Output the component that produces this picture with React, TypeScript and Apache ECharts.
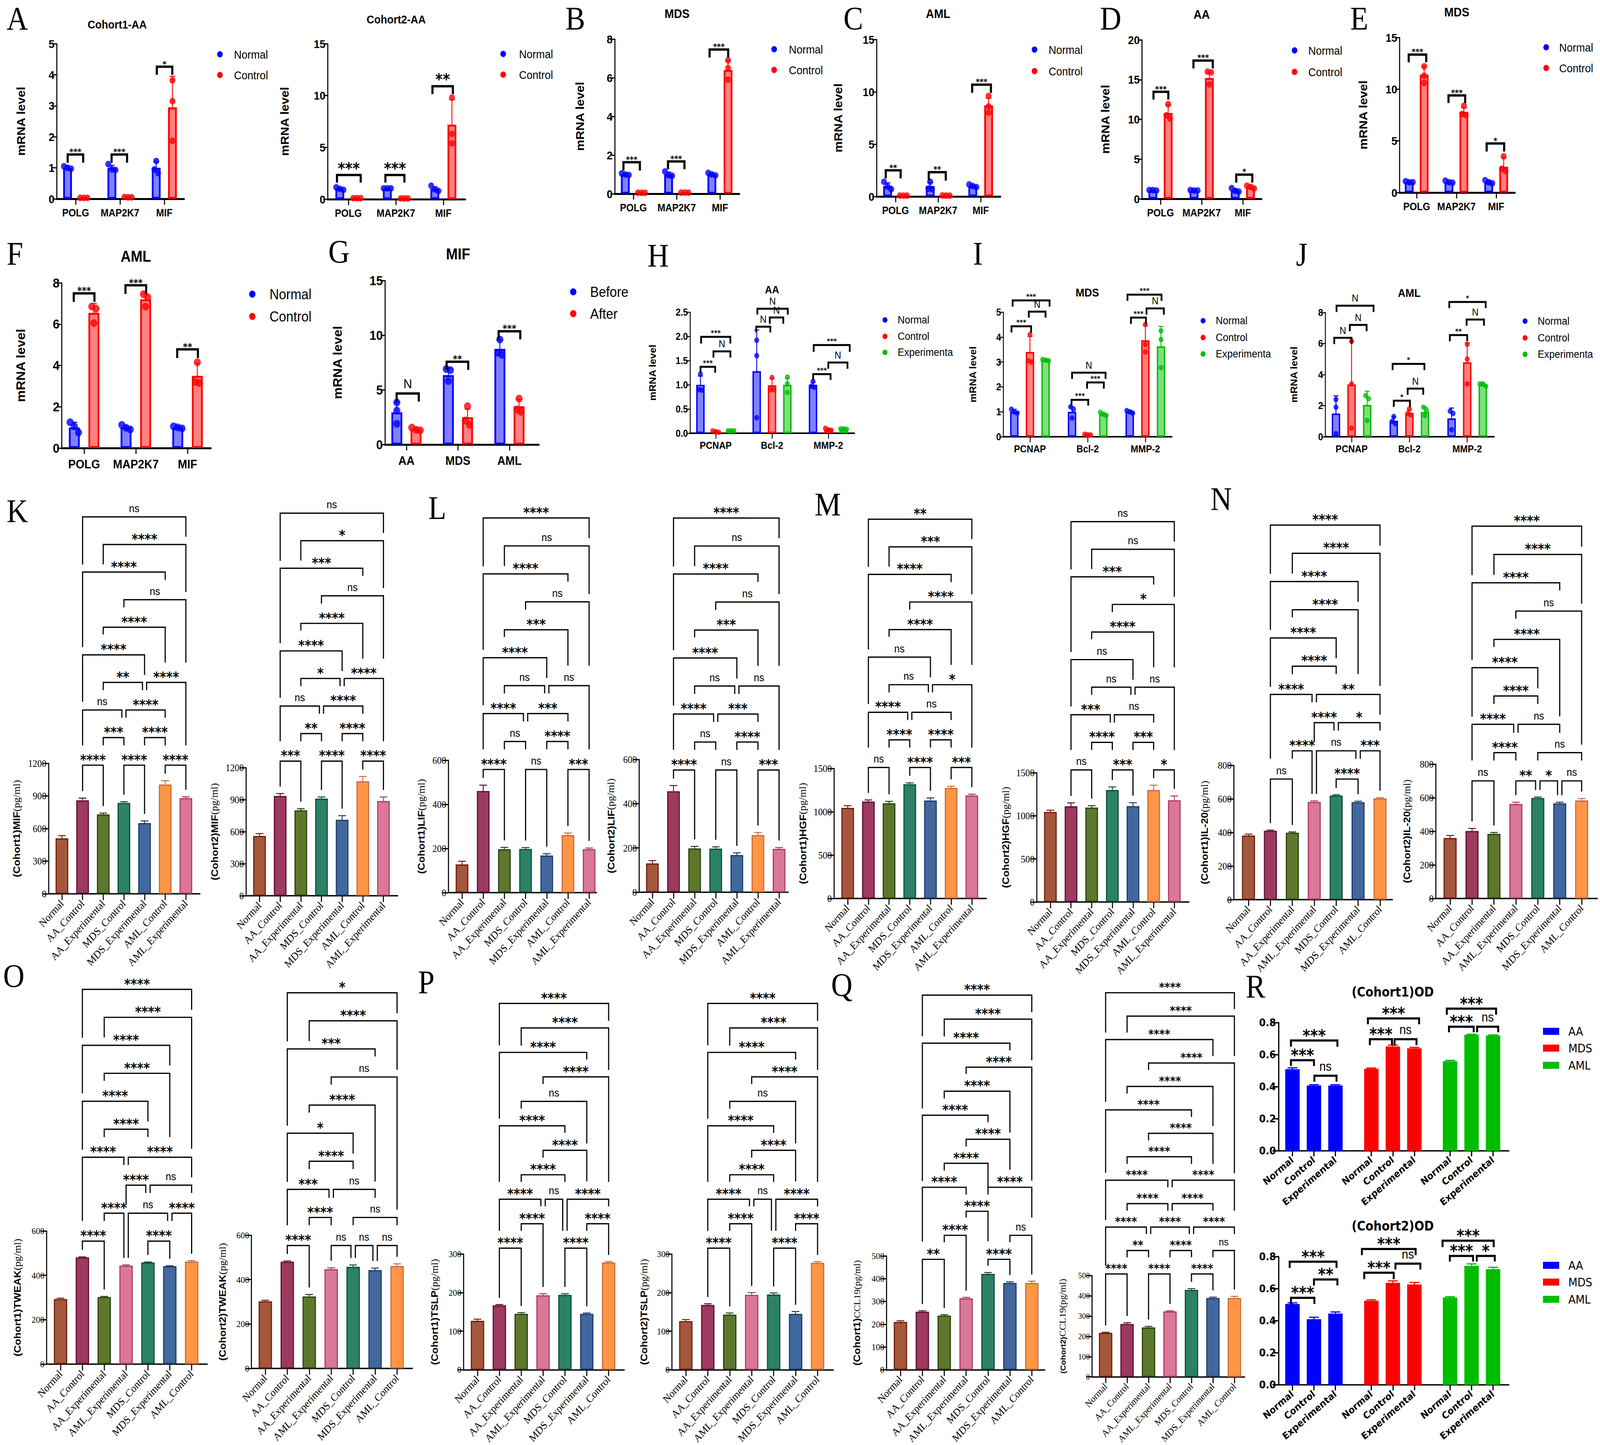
import React, { useEffect, useRef } from 'react';
import * as echarts from 'echarts';

const SANS = '"Liberation Sans", Arial, sans-serif';
const SERIF = '"Liberation Serif", serif';
const DEJAVU = '"DejaVu Sans", sans-serif';

type Tuple = [number, number, number, number, string];
type Pat = [number, number, number, number, number];

// ---- categories
const genes = ['POLG', 'MAP2K7', 'MIF'];
const diseases = ['AA', 'MDS', 'AML'];
const markers = ['PCNAP', 'Bcl-2', 'MMP-2'];
const catsA = ['Normal', 'AA_Control', 'AA_Experimental', 'MDS_Control', 'MDS_Experimental', 'AML_Control', 'AML_Experimental'];
const catsB = ['Normal', 'AA_Control', 'AA_Experimental', 'AML_Experimental', 'MDS_Control', 'MDS_Experimental', 'AML_Control'];
const odCats = ['Normal', 'Control', 'Experimental', 'Normal', 'Control', 'Experimental', 'Normal', 'Control', 'Experimental'];
const odPositions = [0, 1, 2, 3.67, 4.67, 5.67, 7.33, 8.33, 9.33];

// ---- qPCR panels: bars / errors per group, three dots per bar
const a1Bars = [[1, 1, 1], [0.03, 0.05, 2.95]];
const a1Errs = [[0.05, 0.08, 0.2], [0.01, 0.01, 1]];
const a1Dots = [[[1.05, 1, 0.97], [1.12, 0.95, 0.93], [1.22, 0.95, 0.83]], [[0.03, 0.03, 0.03], [0.05, 0.06, 0.05], [3.82, 3.15, 1.87]]];
const a1Brackets: Tuple[] = [[-0.18, 0.17, 1.43, 1.165, '***'], [0.81, 1.16, 1.43, 1.165, '***'], [1.83, 2.18, 4.26, 4, '*']];

const a2Bars = [[1, 1.02, 1], [0.1, 0.08, 7.2]];
const a2Errs = [[0.1, 0.05, 0.2], [0.02, 0.02, 2.4]];
const a2Dots = [[[1.15, 1, 0.9], [1.05, 1.05, 1.05], [1.3, 0.95, 0.8]], [[0.1, 0.1, 0.1], [0.08, 0.08, 0.08], [9.8, 6.3, 5.4]]];
const a2Brackets: Tuple[] = [[-0.24, 0.26, 2.34, 1.6, '***'], [0.78, 1.18, 2.34, 1.6, '***'], [1.77, 2.2, 10.9, 10.15, '**']];

const bBars = [[1, 1, 1], [0.05, 0.05, 6.4]];
const bErrs = [[0.05, 0.12, 0.06], [0.01, 0.01, 0.5]];
const bDots = [[[1.05, 1, 0.97], [1.15, 0.95, 0.93], [1.08, 1, 0.95]], [[0.05, 0.05, 0.05], [0.06, 0.06, 0.06], [6.9, 6.5, 5.9]]];
const bBrackets: Tuple[] = [[-0.23, 0.15, 1.63, 1.2, '***'], [0.8, 1.18, 1.67, 1.27, '***'], [1.76, 2.19, 7.46, 7.04, '***']];

const cBars = [[1, 1, 1], [0.08, 0.08, 8.7]];
const cErrs = [[0.3, 0.35, 0.1], [0.02, 0.02, 0.7]];
const cDots = [[[1.4, 0.95, 0.7], [1.4, 0.75, 0.7], [1.15, 1, 0.9]], [[0.08, 0.08, 0.08], [0.08, 0.1, 0.08], [9.6, 8.6, 8]]];
const cBrackets: Tuple[] = [[-0.23, 0.12, 2.5, 1.73, '**'], [0.78, 1.18, 2.32, 1.52, '**'], [1.8, 2.24, 10.68, 9.9, '***']];

const dBars = [[1.05, 1.05, 1.05], [10.8, 15.2, 1.45]];
const dErrs = [[0.1, 0.1, 0.2], [1, 0.7, 0.2]];
const dDots = [[[1.1, 1.1, 1.05], [1.1, 1.05, 1.05], [1.35, 1, 0.9]], [[11.9, 10.5, 10.1], [16, 15.9, 14.4], [1.65, 1.5, 1.3]]];
const dBrackets: Tuple[] = [[-0.17, 0.19, 13.46, 12.5, '***'], [0.8, 1.27, 17.4, 16.4, '***'], [1.84, 2.23, 3.05, 2.04, '*']];

const eBars = [[1, 1, 1], [11.4, 7.8, 2.5]];
const eErrs = [[0.1, 0.1, 0.15], [0.8, 0.4, 0.9]];
const eDots = [[[1.1, 1, 1], [1.15, 1, 0.95], [1.2, 1, 0.9]], [[12.2, 11.3, 10.6], [8.4, 7.6, 7.5], [3.5, 2.3, 2.1]]];
const eBrackets: Tuple[] = [[-0.2, 0.24, 13.35, 12.6, '***'], [0.8, 1.22, 9.4, 8.66, '***'], [1.76, 2.2, 4.75, 3.97, '*']];

const fBars = [[1, 1, 1], [6.55, 7.2, 3.5]];
const fErrs = [[0.25, 0.08, 0.06], [0.45, 0.25, 0.6]];
const fDots = [[[1.25, 1.05, 0.75], [1.12, 0.98, 0.9], [1.05, 1, 0.95]], [[6.85, 6.75, 6.05], [7.45, 7.3, 6.85], [4.15, 3.2, 3.15]]];
const fBrackets: Tuple[] = [[-0.2, 0.2, 7.49, 7.08, '***'], [0.8, 1.2, 7.88, 7.46, '***'], [1.8, 2.2, 4.78, 4.36, '**']];

const gBars = [[2.95, 6.35, 8.75], [1.4, 2.5, 3.5]];
const gErrs = [[0.9, 0.6, 0.8], [0.15, 0.75, 0.65]];
const gDots = [[[3.85, 3.1, 1.9], [6.9, 6.8, 5.8], [9.6, 8.4, 8.2]], [[1.55, 1.35, 1.3], [3.5, 2.2, 1.8], [4.2, 3.2, 3]]];
const gBrackets: Tuple[] = [[-0.19, 0.24, 4.67, 3.93, 'N'], [0.78, 1.2, 7.57, 6.83, '**'], [1.79, 2.21, 10.36, 9.62, '***']];

const hBars = [[1, 1.28, 1], [0.03, 0.99, 0.07], [0.05, 1, 0.08]];
const hErrs = [[0.18, 0.85, 0.05], [0.02, 0.14, 0.02], [0.01, 0.13, 0.02]];
const hDots = [
  [[1.22, 0.9, 0.89], [1.92, 1.6, 0.32], [1.07, 0.97, 0.95]],
  [[0.05, 0.03, 0.02], [1.15, 0.9, 0.9], [0.1, 0.07, 0.06]],
  [[0.05, 0.05, 0.05], [1.16, 1.02, 0.84], [0.09, 0.09, 0.08]],
];
const hBrackets: Tuple[] = [
  [-0.27, -0.01, 1.37, 1.25, '***'], [-0.04, 0.26, 1.69, 1.56, 'N'], [-0.26, 0.26, 1.99, 1.85, '***'],
  [0.72, 0.97, 2.2, 2.08, 'N'], [0.96, 1.2, 2.39, 2.26, 'N'], [0.74, 1.28, 2.57, 2.45, 'N'],
  [1.73, 2.04, 1.22, 1.1, '***'], [2, 2.34, 1.46, 1.33, 'N'], [1.74, 2.38, 1.82, 1.68, '***'],
];

const iBars = [[1, 1, 1], [3.4, 0.08, 3.87], [3.07, 0.9, 3.63]];
const iErrs = [[0.1, 0.2, 0.05], [0.62, 0.03, 0.6], [0.05, 0.06, 0.8]];
const iDots = [
  [[1.1, 1, 0.95], [1.2, 1.1, 0.75], [1.05, 1, 0.95]],
  [[4.1, 3.05, 3], [0.1, 0.08, 0.07], [4.5, 3.7, 3.4]],
  [[3.1, 3.07, 3.05], [0.98, 0.9, 0.85], [4.25, 3.9, 2.77]],
];
const iBrackets: Tuple[] = [
  [-0.32, 0.02, 4.43, 4.18, '***'], [-0.02, 0.27, 5.02, 4.78, 'N'], [-0.3, 0.34, 5.47, 5.22, '***'],
  [0.72, 1.01, 1.48, 1.25, '***'], [0.99, 1.28, 2.18, 1.93, '***'], [0.73, 1.31, 2.57, 2.32, 'N'],
  [1.75, 2.01, 4.78, 4.53, '***'], [2.02, 2.32, 5.15, 4.9, 'N'], [1.69, 2.28, 5.7, 5.45, '***'],
];

const jBars = [[1.5, 1.03, 1.18], [3.37, 1.52, 4.8], [2.05, 1.6, 3.35]];
const jErrs = [[1.13, 0.25, 0.67], [2.75, 0.2, 1.25], [0.88, 0.3, 0.1]];
const jDots = [
  [[2.4, 1.9, 0.2], [1.3, 1, 0.85], [1.65, 1.5, 0.45]],
  [[6.15, 3.4, 0.55], [1.8, 1.5, 1.4], [5.95, 5, 3.4]],
  [[2.65, 2.45, 1.05], [1.9, 1.7, 1.35], [3.4, 3.4, 3.25]],
];
const jBrackets: Tuple[] = [
  [-0.3, 0, 6.37, 5.97, 'N'], [-0.03, 0.26, 7.2, 6.8, 'N'], [-0.26, 0.38, 8.44, 8.03, 'N'],
  [0.73, 1.01, 2.32, 1.92, '*'], [0.97, 1.24, 3.1, 2.7, 'N'], [0.71, 1.26, 4.69, 4.29, '*'],
  [1.7, 2, 6.55, 6.15, '**'], [1.99, 2.29, 7.55, 7.15, 'N'], [1.69, 2.32, 8.68, 8.28, '*'],
];

// ---- ELISA panels
const k1Values = [510, 860, 730, 835, 650, 1005, 880];
const k1Errs = [25, 20, 12, 12, 20, 35, 12];
const k2Values = [560, 935, 800, 910, 712, 1072, 887];
const k2Errs = [22, 22, 15, 15, 38, 45, 38];
const l1Values = [128, 460, 197, 198, 168, 260, 197];
const l1Errs = [14, 27, 8, 6, 8, 10, 5];
const l2Values = [130, 456, 198, 197, 168, 258, 196];
const l2Errs = [13, 26, 9, 8, 10, 12, 6];
const m1Values = [1045, 1118, 1098, 1318, 1130, 1275, 1188];
const m1Errs = [25, 18, 22, 15, 30, 18, 15];
const m2Values = [1045, 1110, 1095, 1300, 1112, 1300, 1180];
const m2Errs = [20, 40, 22, 35, 40, 55, 50];
const n1Values = [382, 410, 398, 582, 620, 580, 603];
const n1Errs = [8, 4, 5, 6, 4, 6, 4];
const n2Values = [360, 402, 385, 563, 598, 566, 584];
const n2Errs = [15, 15, 8, 10, 6, 7, 11];
const o1Values = [293, 481, 302, 444, 458, 441, 462];
const o1Errs = [4, 2, 3, 3, 2, 2, 4];
const o2Values = [302, 481, 324, 447, 458, 443, 461];
const o2Errs = [5, 3, 9, 6, 8, 9, 10];
const p1Values = [127, 167, 145, 193, 194, 145, 278];
const p1Errs = [4, 2, 3, 4, 3, 2, 2];
const p2Values = [126, 168, 143, 194, 195, 145, 277];
const p2Errs = [4, 3, 4, 6, 4, 6, 3];
const q1Values = [210, 255, 238, 314, 421, 381, 381];
const q1Errs = [5, 4, 4, 4, 6, 5, 8];
const q2Values = [217, 261, 244, 323, 429, 389, 389];
const q2Errs = [3, 6, 5, 3, 6, 4, 8];

const k1Sig = '**** **** **** *** **** ns **** ** **** **** **** ns **** **** ns';
const k2Sig = '*** **** **** ** **** ns **** * **** **** **** ns *** * ns';
const l1Sig = '**** ns *** ns **** **** *** ns ns **** *** ns **** ns ****';
const m1Sig = 'ns **** *** **** **** **** ns ns * ns **** **** **** *** **';
const m2Sig = 'ns *** * **** *** *** ns ns ns ns **** * *** ns ns';
const n1Sig = 'ns **** **** ns *** **** * **** ** **** **** **** **** **** ****';
const n2Sig = 'ns ** * ns **** ns **** ns **** **** **** ns **** **** ****';
const o1Sig = '**** **** **** ns **** **** ns **** **** **** **** **** **** **** ****';
const o2Sig = '**** ns ns ns **** ns *** ns **** * **** ns *** **** *';
const pSig = '**** **** **** **** **** ns **** **** **** **** ns **** **** **** ****';
const q1Sig = '** **** **** ns **** **** **** **** **** **** **** **** **** **** ****';
const q2Sig = '**** **** **** ** **** ns **** **** **** **** **** **** **** **** **** **** **** **** **** **** ****';

// bracket layouts: from, to, ladder level, left drop, right drop (in ladder steps, -1 = down to the bar)
const patK: Pat[] = [
  [1, 2, 0, -1, -1], [3, 4, 0, -1, -1], [5, 6, 0, -1, -1], [2, 3, 1, 0.28, 0.28], [4, 5, 1, 0.28, 0.28],
  [1, 2.9, 2, 1.28, 0.28], [3.1, 5, 2, 0.28, 0.28], [2, 3.9, 3, 0.28, 0.28], [4.1, 6, 3, 0.28, 2.28],
  [1, 4, 4, 1.7, 0.73], [2, 5, 5, 0.26, 1.28], [3, 6, 6, 0.28, 2.28], [1, 5, 7, 2.72, 0.28], [2, 6, 8, 0.72, 1.72], [1, 6, 9, 1.73, 0.72],
];
const patN1: Pat[] = [
  [1, 2, 0, -1, -1], [4, 5, 0, -1, -1], [2, 2.9, 1, 0.28, -1], [3.1, 4.9, 1, -1, 0.28], [5.1, 6, 1, 0.28, -1],
  [3, 3.9, 2, 0.7, 0.28], [4.1, 6, 2, 0.28, 0.28], [1, 2.9, 3, 2.28, 0.28], [3.1, 6, 3, 0.28, 0.72],
  [2, 4, 4, 0.28, 0.28], [1, 4, 5, 1.73, 0.72], [2, 5, 6, 0.27, 2.28], [1, 5, 7, 1.72, 0.72], [2, 6, 8, 0.72, 4.7], [1, 6, 9, 1.73, 0.73],
];
const patN2: Pat[] = [
  [1, 2, 0, -1, -1], [3, 3.9, 0, -1, -1], [4.1, 4.9, 0, -1, -1], [5.1, 6, 0, -1, -1], [2, 3, 1, 0.28, 0.28], [4, 6, 1, 0.28, 0.28],
  [1, 2.9, 2, 1.28, 0.3], [3.1, 5, 2, 0.3, 0.3], [2, 4, 3, 0.28, 0.28], [1, 4, 4, 1.73, 0.73],
  [2, 5, 5, 0.27, 2.72], [3, 6, 6, 0.27, 4.72], [1, 5, 7, 2.73, 0.27], [2, 6, 8, 0.72, 1.74], [1, 6, 9, 1.73, 0.73],
];
const patP: Pat[] = [
  [1, 2, 0, -1, -1], [4, 5, 0, -1, -1], [2, 3, 1, 0.29, -1], [5, 6, 1, 0.29, -1],
  [1, 2.9, 2, 1.29, 0.29], [3.1, 3.9, 2, 0.29, 1.29], [4.1, 6, 2, 1.29, 0.29], [2, 4, 3, 0.29, 0.29], [3, 5, 4, 0.3, 1.27],
  [1, 4, 5, 2.29, 0.29], [2, 5, 6, 0.3, 1.72], [3, 6, 7, 0.29, 4.29], [1, 5, 8, 2.71, 0.29], [2, 6, 9, 0.72, 1.72], [1, 6, 10, 1.71, 0.71],
];
const patQ1: Pat[] = [
  [1, 2, 0, -1, -1], [4, 5, 0, -1, -1], [2, 3, 1, 0.29, -1], [5, 6, 1, 0.29, -1], [3, 4, 2, 0.26, 1.25],
  [1, 3, 3, 2.26, 0.3], [4, 6, 3, 0.3, 1.26], [2, 4, 4, 0.3, 0.99], [3, 5, 5, 0.3, 1.27], [1, 4, 6, 2.74, 0.29],
  [2, 5, 7, 0.3, 1.72], [3, 6, 8, 0.28, 4.72], [1, 5, 9, 2.72, 0.3], [2, 6, 10, 0.72, 1.71], [1, 6, 11, 1.71, 0.71],
];
const patQ2: Pat[] = [
  [0, 1, 0, -1, -1], [2, 3, 0, -1, -1], [4, 5, 0, -1, -1], [1, 2, 1, 0.29, 0.29], [3, 4, 1, 0.29, 0.29], [5, 6, 1, 0.29, -1],
  [0, 1.9, 2, 1.64, 0.3], [2.1, 3.9, 2, 0.3, 0.3], [4.1, 6, 2, 0.3, 0.3], [1, 2.9, 3, 0.3, 0.3], [3.1, 5, 3, 0.3, 0.3],
  [0, 2.9, 4, 1.7, 0.3], [3.1, 6, 4, 0.3, 1.3], [1, 4, 5, 0.3, 0.3], [2, 5, 6, 0.3, 1.3], [0, 4, 7, 2.68, 0.3],
  [1, 5, 8, 0.3, 1.69], [2, 6, 9, 0.3, 4.7], [0, 5, 10, 2.66, 0.7], [1, 6, 11, 0.7, 1.7], [0, 6, 12, 1.7, 0.7],
];

// ---- OD panels
const r1Values = [0.51, 0.408, 0.408, 0.513, 0.652, 0.64, 0.56, 0.725, 0.72];
const r1Errs = [0.008, 0.005, 0.005, 0.004, 0.008, 0.006, 0.005, 0.003, 0.004];
const r1Brackets: Tuple[] = [
  [-0.07, 2.09, 0.689, 0.65, '***'], [-0.07, 1, 0.566, 0.53, '***'], [1.02, 2.05, 0.469, 0.432, 'ns'],
  [3.51, 5.89, 0.827, 0.79, '***'], [3.6, 4.63, 0.697, 0.66, '***'], [4.75, 5.77, 0.697, 0.66, 'ns'],
  [7.18, 9.47, 0.888, 0.85, '***'], [7.28, 8.43, 0.775, 0.74, '***'], [8.59, 9.57, 0.775, 0.74, 'ns'],
];
const r2Values = [0.505, 0.41, 0.445, 0.525, 0.637, 0.627, 0.545, 0.743, 0.722];
const r2Errs = [0.007, 0.012, 0.01, 0.006, 0.012, 0.012, 0.005, 0.012, 0.012];
const r2Brackets: Tuple[] = [
  [-0.13, 2.05, 0.769, 0.73, '***'], [1, 2.09, 0.658, 0.62, '**'], [-0.07, 1.02, 0.543, 0.505, '***'],
  [3.23, 5.73, 0.848, 0.81, '***'], [3.34, 4.71, 0.7, 0.66, '***'], [4.79, 5.95, 0.757, 0.72, 'ns'],
  [6.98, 9.36, 0.9, 0.86, '***'], [7.32, 8.4, 0.805, 0.77, '***'], [8.57, 9.41, 0.805, 0.77, '*'],
];

// ---- colours
const qFill = ['#8080ff', '#ff8080', '#80dd80'];
const qLine = ['#0000ff', '#ff0000', '#00bd00'];
const elisa: Record<string, [string, string]> = {
  brown: ['#a5573b', '#6b1b0e'], wine: ['#9c3a60', '#5c0a30'], olive: ['#5d782c', '#24400c'], teal: ['#2c8267', '#0b4a3a'],
  blue: ['#41689f', '#1c3a66'], orange: ['#ff9545', '#c7683a'], pink: ['#da7896', '#a8386a'],
};
const orderA = ['brown', 'wine', 'olive', 'teal', 'blue', 'orange', 'pink'];
const orderB = ['brown', 'wine', 'olive', 'pink', 'teal', 'blue', 'orange'];
const odColors = ['#0000ff', '#ff0000', '#00bd00'];

function buildOption() {
  const grid: any[] = [];
  const xAxis: any[] = [];
  const yAxis: any[] = [];
  const series: any[] = [];
  const graphic: any[] = [];

  const text = (x: number, y: number, t: string, font: any) =>
    graphic.push({ type: 'text', x, y, silent: true, style: { text: t, fill: '#000', verticalAlign: 'middle', align: 'left', ...font } });
  const letter = (t: string, x: number, y: number) => text(x, y, t, { fontFamily: SERIF, fontSize: 84 });
  const title = (t: string, x: number, y: number, size: number, family = SANS) =>
    text(x, y, t, { fontFamily: family, fontSize: size, fontWeight: 'bold', align: 'center' });
  const dotLegend = (x: number, tx: number, ys: number[], names: string[], size: number, r: number) =>
    names.forEach((n, i) => {
      graphic.push({ type: 'circle', silent: true, shape: { cx: x, cy: ys[i], r }, style: { fill: qLine[i] } });
      text(tx, ys[i], n, { fontFamily: SANS, fontSize: size });
    });

  // axes shared by every panel, returns the axis index
  const addAxes = (p: any) => {
    const [ax, top, x1, bot] = p.box;
    const i = grid.length;
    grid.push({ left: ax, top, width: x1 - ax, height: bot - top, containLabel: false });
    xAxis.push({
      gridIndex: i,
      type: 'value',
      min: (ax - p.x0) / p.dx,
      max: (x1 - p.x0) / p.dx,
      splitLine: { show: false },
      axisLine: { onZero: false, lineStyle: { color: '#000', width: p.xLw } },
      axisTick: { customValues: p.positions, length: p.tick, lineStyle: { color: '#000', width: p.yLw } },
      axisLabel: {
        customValues: p.positions,
        color: '#000',
        margin: p.xMargin,
        rotate: p.xRotate || 0,
        fontFamily: p.xFamily,
        fontSize: p.xSize,
        fontWeight: p.xWeight || 'normal',
        formatter: (v: number) => p.labels[p.positions.findIndex((q: number) => Math.abs(q - v) < 1e-6)] ?? '',
      },
    });
    yAxis.push({
      gridIndex: i,
      type: 'value',
      min: 0,
      max: p.ymax,
      interval: p.step,
      splitLine: { show: false },
      axisLine: { onZero: false, lineStyle: { color: '#000', width: p.yLw } },
      axisTick: { length: p.yTick, lineStyle: { color: '#000', width: p.yLw } },
      axisLabel: {
        color: '#000',
        margin: p.yMargin,
        fontFamily: p.yFamily,
        fontSize: p.ySize,
        fontWeight: p.yWeight || 'normal',
        formatter: (v: number) => (p.yDigits ? v.toFixed(p.yDigits) : String(v)),
      },
      name: p.yName,
      nameLocation: 'middle',
      nameRotate: 90,
      nameGap: p.yNameGap,
      nameMoveOverlap: false,
      nameTextStyle: p.yNameStyle,
    });
    return i;
  };

  const barSeries = (i: number, bars: any[], width: number, borderWidth: number) =>
    series.push({
      type: 'bar',
      xAxisIndex: i,
      yAxisIndex: i,
      barWidth: width,
      silent: true,
      data: bars.map((b) => ({ value: [b.x, b.v], itemStyle: { color: b.fill, borderColor: b.line, borderWidth } })),
    });

  const errSeries = (i: number, bars: any[], both: boolean, cap: number, lw: number) =>
    series.push({
      type: 'custom',
      xAxisIndex: i,
      yAxisIndex: i,
      silent: true,
      encode: { x: 0, y: [1, 2] },
      data: bars.map((b) => [b.x, both ? b.v - b.e : b.v, b.v + b.e]),
      renderItem: (params: any, api: any) => {
        const lo = api.coord([api.value(0), api.value(1)]);
        const hi = api.coord([api.value(0), api.value(2)]);
        const style = { stroke: bars[params.dataIndex].line, lineWidth: lw };
        const ln = (x1: number, y1: number, x2: number, y2: number) => ({ type: 'line', shape: { x1, y1, x2, y2 }, style });
        const kids = [ln(lo[0], lo[1], hi[0], hi[1]), ln(hi[0] - cap, hi[1], hi[0] + cap, hi[1])];
        if (both) kids.push(ln(lo[0] - cap, lo[1], lo[0] + cap, lo[1]));
        return { type: 'group', children: kids };
      },
    });

  // rows are from, to, top, left end, right end; sigs are the texts over them
  const bracketSeries = (i: number, rows: number[][], sigs: string[], f: any) =>
    series.push({
      type: 'custom',
      xAxisIndex: i,
      yAxisIndex: i,
      silent: true,
      encode: { x: [0, 1], y: [2, 3, 4] },
      data: rows,
      z: 3,
      renderItem: (params: any, api: any) => {
        const a = api.coord([api.value(0), api.value(2)]);
        const b = api.coord([api.value(1), api.value(2)]);
        const la = api.coord([api.value(0), api.value(3)]);
        const lb = api.coord([api.value(1), api.value(4)]);
        const t = sigs[params.dataIndex];
        const star = t[0] === '*';
        const size = star ? f.star : f.plain;
        const gap = star ? f.starGap - 0.2 * size : f.plainGap;
        return {
          type: 'group',
          children: [
            { type: 'polyline', shape: { points: [[la[0], la[1]], [a[0], a[1]], [b[0], b[1]], [lb[0], lb[1]]] }, style: { stroke: '#000', lineWidth: f.lw, fill: 'none' } },
            {
              type: 'text',
              style: {
                x: (a[0] + b[0]) / 2,
                y: a[1] - gap,
                text: t,
                fill: '#000',
                align: 'center',
                verticalAlign: 'middle',
                fontSize: size,
                fontWeight: star ? 'bold' : 'normal',
                fontFamily: star ? DEJAVU : SANS,
              },
            },
          ],
        };
      },
    });

  // dots close in height sit side by side
  const swarm = (ys: number[], pxPerValue: number, d: number, unit: number) => {
    const sorted = [...ys].sort((a, b) => b - a);
    const out: number[][] = [];
    let k = 0;
    while (k < sorted.length) {
      let e = k;
      while (e + 1 < sorted.length && (sorted[e] - sorted[e + 1]) * pxPerValue < d * 0.8) e++;
      const n = e - k + 1;
      for (let j = k; j <= e; j++) out.push([(j - k - (n - 1) / 2) * d * 0.6 * unit, sorted[j]]);
      k = e + 1;
    }
    return out;
  };

  const qpcr = (p: any) => {
    const [, top, , bot] = p.box;
    const n = p.bars.length;
    const offs = n === 2 ? [-p.off, p.off] : [-p.off, 0, p.off];
    const i = addAxes({
      ...p,
      positions: p.cats.map((_: string, c: number) => c),
      labels: p.cats,
      xLw: p.xLw || 5,
      yLw: p.yLw || 3,
      tick: p.tick || 15,
      yTick: p.yTick || 12,
      xMargin: p.xMargin || 22,
      yMargin: p.yMargin || 6,
      xFamily: SANS,
      xWeight: 'bold',
      yFamily: SANS,
      yWeight: 'bold',
      yName: 'mRNA level',
      yNameGap: p.box[0] - p.nameX - p.nameSize / 2,
      yNameStyle: { color: '#000', fontFamily: SANS, fontWeight: 'bold', fontSize: p.nameSize },
    });
    const bars: any[] = [];
    const dots: any[] = [];
    p.bars.forEach((row: number[], s: number) =>
      row.forEach((v, c) => {
        const x = c + offs[s];
        bars.push({ x, v, e: p.errs[s][c], fill: qFill[s], line: qLine[s] });
        swarm(p.dots[s][c], (bot - top) / p.ymax, p.dot, 1 / p.dx).forEach(([dx, y]) =>
          dots.push({ value: [x + dx, y], itemStyle: { color: qLine[s] } }),
        );
      }),
    );
    barSeries(i, bars, p.barW, p.border || 5);
    errSeries(i, bars, true, p.cap || 8, 2.5);
    series.push({ type: 'scatter', xAxisIndex: i, yAxisIndex: i, silent: true, symbolSize: p.dot, data: dots, z: 2 });
    bracketSeries(
      i,
      p.brackets.map((b: Tuple) => [b[0], b[1], b[2], b[3], b[3]]),
      p.brackets.map((b: Tuple) => b[4]),
      { lw: p.lw || 6, star: p.star, starGap: p.starGap, plain: p.plain || 30, plainGap: p.plainGap || 22 },
    );
  };

  const elisaPanel = (p: any) => {
    const [, top, , bot] = p.box;
    const valuePerPx = p.ymax / (bot - top);
    const i = addAxes({
      ...p,
      positions: p.cats.map((_: string, c: number) => c),
      labels: p.cats,
      xLw: 3.5,
      yLw: 3,
      tick: 16,
      yTick: 16,
      xMargin: 20,
      yMargin: 6,
      xRotate: 45,
      xFamily: SERIF,
      xSize: p.xSize || 28,
      yFamily: SERIF,
      ySize: p.ySize || 26,
      yName: `{a|${p.nameA}}{b|${p.nameB}}`,
      yNameGap: p.box[0] - p.nameX - 15,
      yNameStyle: {
        rich: {
          a: { fontFamily: SANS, fontWeight: 'bold', fontSize: p.nameSize || 27, color: '#000' },
          b: { fontFamily: SERIF, fontSize: p.nameSerif ? 25 : 27, color: '#000' },
        },
      },
    });
    const tones = p.order.map((k: string) => elisa[k]);
    const bars = p.values.map((v: number, c: number) => ({ x: c, v, e: p.errs[c], fill: tones[c][0], line: tones[c][1] }));
    barSeries(i, bars, p.barW || 36, 3);
    errSeries(i, bars, false, 11, 2.5);
    const barTop = (x: number) => {
      const c = Math.round(x);
      return p.values[c] + p.errs[c] + 18 * valuePerPx;
    };
    const rows = p.pattern.map(([a, b, lv, dl, dr]: Pat) => {
      const t = p.base + lv * p.pitch;
      return [a, b, t, dl < 0 ? barTop(a) : t - dl * p.pitch, dr < 0 ? barTop(b) : t - dr * p.pitch];
    });
    bracketSeries(i, rows, p.sig.split(' '), {
      lw: p.lw || 3.2,
      star: p.star || 35,
      starGap: p.starGap || 21,
      plain: p.plain || 28,
      plainGap: p.plainGap || 22,
    });
  };

  const odPanel = (p: any) => {
    const i = addAxes({
      ...p,
      positions: odPositions,
      labels: odCats,
      xLw: 3.5,
      yLw: 3.5,
      tick: 14,
      yTick: 18,
      xMargin: 20,
      yMargin: 8,
      xRotate: 38,
      xFamily: DEJAVU,
      xSize: 25,
      xWeight: 'bold',
      yFamily: DEJAVU,
      ySize: 27,
      yWeight: 'bold',
      ymax: 0.8,
      step: 0.2,
      yDigits: 1,
    });
    const bars = p.values.map((v: number, c: number) => {
      const col = odColors[Math.floor(c / 3)];
      return { x: odPositions[c], v, e: p.errs[c], fill: col, line: col };
    });
    barSeries(i, bars, 41, 0);
    errSeries(i, bars, false, 14, 3);
    bracketSeries(
      i,
      p.brackets.map((b: Tuple) => [b[0], b[1], b[2], b[3], b[3]]),
      p.brackets.map((b: Tuple) => b[4]),
      { lw: 5.5, star: 42, starGap: 21, plain: 33, plainGap: 24 },
    );
    title(p.title, 3958, p.titleY, 33, DEJAVU);
    ['AA', 'MDS', 'AML'].forEach((n, c) => {
      const y = p.legendY[c];
      graphic.push({ type: 'rect', silent: true, shape: { x: 4385, y: y - 9, width: 46, height: 18 }, style: { fill: odColors[c] } });
      text(4457, y, n, { fontFamily: DEJAVU, fontSize: 30 });
    });
  };

  // ---- top rows
  const twoNames = ['Normal', 'Control'];
  const threeNames = ['Normal', 'Control', 'Experimenta'];
  const small = { ySize: 30, xSize: 27, barW: 25, dot: 17, nameSize: 32 };

  qpcr({ ...small, box: [161, 112, 523, 509], x0: 215, dx: 126, off: 0.183, ymax: 5, step: 1, cats: genes, bars: a1Bars, errs: a1Errs, dots: a1Dots, brackets: a1Brackets, star: 22, starGap: 11, nameX: 59 });
  title('Cohort1-AA', 333, 62, 30);
  dotLegend(625, 665, [139, 192], twoNames, 30, 8);
  qpcr({ ...small, box: [931, 112, 1322, 510], x0: 990, dx: 135, off: 0.18, ymax: 15, step: 5, cats: genes, bars: a2Bars, errs: a2Errs, dots: a2Dots, brackets: a2Brackets, star: 40, starGap: 25, nameX: 809 });
  title('Cohort2-AA', 1126, 49, 30);
  dotLegend(1430, 1475, [138, 191], twoNames, 30, 8);
  qpcr({ ...small, box: [1747, 100, 2101, 496], x0: 1800, dx: 123, off: 0.187, ymax: 8, step: 2, cats: genes, bars: bBars, errs: bErrs, dots: bDots, brackets: bBrackets, star: 21, starGap: 11, nameX: 1648 });
  title('MDS', 1924, 34, 32);
  dotLegend(2200, 2242, [126, 179], twoNames, 30, 8);
  qpcr({ ...small, box: [2491, 101, 2843, 503], x0: 2545, dx: 121, off: 0.186, ymax: 15, step: 5, cats: genes, bars: cBars, errs: cErrs, dots: cDots, brackets: cBrackets, star: 21, starGap: 11, nameX: 2382 });
  title('AML', 2666, 34, 32);
  dotLegend(2940, 2980, [127, 182], twoNames, 30, 8);
  qpcr({ ...small, box: [3245, 102, 3585, 509], x0: 3298, dx: 117, off: 0.186, ymax: 20, step: 5, cats: genes, bars: dBars, errs: dErrs, dots: dDots, brackets: dBrackets, star: 21, starGap: 11, nameX: 3141 });
  title('AA', 3415, 36, 32);
  dotLegend(3679, 3718, [129, 184], twoNames, 30, 8);
  qpcr({ ...small, box: [3977, 96, 4305, 493], x0: 4026, dx: 113, off: 0.188, ymax: 15, step: 5, cats: genes, bars: eBars, errs: eErrs, dots: eDots, brackets: eBrackets, star: 21, starGap: 11, nameX: 3874 });
  title('MDS', 4140, 30, 32);
  dotLegend(4394, 4431, [121, 174], twoNames, 30, 8);

  const large = { ySize: 34, xSize: 32, barW: 31, dot: 20, nameSize: 34, star: 25, starGap: 12, xMargin: 24, plain: 34, plainGap: 25 };
  qpcr({ ...large, box: [175, 724, 599, 1147], x0: 239, dx: 147, off: 0.189, ymax: 8, step: 2, cats: genes, bars: fBars, errs: fErrs, dots: fDots, brackets: fBrackets, nameX: 59 });
  title('AML', 386, 656, 40);
  dotLegend(717, 766, [753, 810], twoNames, 37, 9);
  qpcr({ ...large, box: [1094, 718, 1531, 1138], x0: 1155, dx: 146.4, off: 0.186, ymax: 15, step: 5, cats: diseases, bars: gBars, errs: gErrs, dots: gDots, brackets: gBrackets, nameX: 960 });
  title('MIF', 1302, 650, 40);
  dotLegend(1629, 1677, [747, 803], ['Before', 'After'], 37, 9);

  const mini = { ySize: 25, xSize: 26, barW: 24, border: 4, dot: 14, nameSize: 26, lw: 5, star: 18, starGap: 14, plain: 26, plainGap: 19, xLw: 4, yLw: 2.5, tick: 14, yTick: 10, xMargin: 18, cap: 7 };
  qpcr({ ...mini, box: [1961, 799, 2428, 1109], x0: 2034, dx: 160, off: 0.272, ymax: 2.5, step: 0.5, yDigits: 1, cats: markers, bars: hBars, errs: hErrs, dots: hDots, brackets: hBrackets, nameX: 1855 });
  title('AA', 2194, 742, 28);
  dotLegend(2515, 2551, [819, 861, 902], threeNames, 28, 7);
  qpcr({ ...mini, box: [2851, 799, 3330, 1118], x0: 2927, dx: 164, off: 0.271, ymax: 5, step: 1, cats: markers, bars: iBars, errs: iErrs, dots: iDots, brackets: iBrackets, nameX: 2765 });
  title('MDS', 3090, 748, 30);
  dotLegend(3419, 3455, [821, 864, 906], threeNames, 28, 7);
  qpcr({ ...mini, box: [3766, 800, 4246, 1118], x0: 3841, dx: 164.3, off: 0.27, ymax: 8, step: 2, cats: markers, bars: jBars, errs: jErrs, dots: jDots, brackets: jBrackets, nameX: 3678 });
  title('AML', 4005, 749, 30);
  dotLegend(4334, 4370, [822, 865, 907], threeNames, 28, 7);

  // ---- ELISA rows
  const mif = { cats: catsA, order: orderA, ymax: 1200, step: 300, pattern: patK, nameB: '(pg/ml)' };
  elisaPanel({ ...mif, box: [138, 1954, 568, 2288], x0: 176, dx: 58.7, values: k1Values, errs: k1Errs, base: 1183, pitch: 253.7, sig: k1Sig, nameA: '(Cohort1)MIF', nameX: 46 });
  elisaPanel({ ...mif, box: [699, 1965, 1130, 2293], x0: 737.5, dx: 58.7, values: k2Values, errs: k2Errs, base: 1261, pitch: 258, sig: k2Sig, nameA: '(Cohort2)MIF', nameX: 608 });
  const lif = { cats: catsA, order: orderA, ymax: 600, step: 200, pattern: patK, nameB: '(pg/ml)' };
  elisaPanel({ ...lif, box: [1274, 1946, 1695, 2285], x0: 1313, dx: 60.2, values: l1Values, errs: l1Errs, base: 558, pitch: 126.6, sig: l1Sig, nameA: '(Cohort1)LIF', nameX: 1196 });
  elisaPanel({ ...lif, box: [1816, 1944, 2240, 2284], x0: 1854, dx: 60, values: l2Values, errs: l2Errs, base: 552, pitch: 126.5, sig: l1Sig, nameA: '(Cohort2)LIF', nameX: 1735 });
  const hgf = { cats: catsA, order: orderA, ymax: 1500, step: 500, pattern: patK, nameB: '(pg/ml)' };
  elisaPanel({ ...hgf, box: [2370, 1967, 2803, 2300], x0: 2409, dx: 58.8, values: m1Values, errs: m1Errs, base: 1511, pitch: 318, sig: m1Sig, nameA: '(Cohort1)HGF', nameX: 2280 });
  elisaPanel({ ...hgf, box: [2946, 1978, 3379, 2309], x0: 2985, dx: 58.7, values: m2Values, errs: m2Errs, base: 1532, pitch: 320, sig: m2Sig, nameA: '(Cohort2)HGF', nameX: 2857 });
  const il20 = { cats: catsB, order: orderB, ymax: 800, step: 200, nameB: '(pg/ml)', barW: 37 };
  elisaPanel({ ...il20, box: [3506, 1959, 3957, 2303], x0: 3548, dx: 62.3, values: n1Values, errs: n1Errs, base: 718, pitch: 168, pattern: patN1, sig: n1Sig, nameA: '(Cohort1)IL-20', nameX: 3422 });
  elisaPanel({ ...il20, box: [4080, 1956, 4539, 2300], x0: 4121, dx: 62.3, values: n2Values, errs: n2Errs, base: 700, pitch: 168.5, pattern: patN2, sig: n2Sig, nameA: '(Cohort2)IL-20', nameX: 3997 });

  const tweak = { cats: catsB, order: orderB, ymax: 600, step: 200, nameB: '(pg/ml)', barW: 38, ySize: 24 };
  elisaPanel({ ...tweak, box: [132, 3151, 589, 3492], x0: 172, dx: 62.1, values: o1Values, errs: o1Errs, base: 554, pitch: 126, pattern: patN1, sig: o1Sig, nameA: '(Cohort1)TWEAK', nameX: 48 });
  elisaPanel({ ...tweak, box: [714, 3162, 1172, 3503], x0: 754, dx: 62.4, values: o2Values, errs: o2Errs, base: 553.6, pitch: 126.5, pattern: patN2, sig: o2Sig, nameA: '(Cohort2)TWEAK', nameX: 631 });
  const tslp = { cats: catsB, order: orderB, ymax: 300, step: 100, nameB: '(pg/ml)', barW: 38, ySize: 24, pattern: patP, sig: pSig };
  elisaPanel({ ...tslp, box: [1317, 3210, 1774, 3521], x0: 1357, dx: 62.1, values: p1Values, errs: p1Errs, base: 315, pitch: 63.4, nameA: '(Cohort1)TSLP', nameX: 1234 });
  elisaPanel({ ...tslp, box: [1909, 3210, 2368, 3521], x0: 1949, dx: 62.4, values: p2Values, errs: p2Errs, base: 315, pitch: 63.4, nameA: '(Cohort2)TSLP', nameX: 1829 });
  const ccl = { cats: catsB, order: orderB, ymax: 500, step: 100, barW: 38, ySize: 24, nameB: 'CCL19(pg/ml)', nameSerif: true };
  elisaPanel({ ...ccl, box: [2519, 3215, 2969, 3516], x0: 2559, dx: 62.2, values: q1Values, errs: q1Errs, base: 485, pitch: 105.5, pattern: patQ1, sig: q1Sig, nameA: '(Cohort1)', nameX: 2434 });
  elisaPanel({ ...ccl, box: [3103, 3265, 3537, 3532], x0: 3142, dx: 61, values: q2Values, errs: q2Errs, base: 507.5, pitch: 115.5, pattern: patQ2, sig: q2Sig, nameA: '(Cohort2)', nameX: 3018, nameSize: 21, star: 30, plain: 26, ySize: 22, xSize: 25 });

  odPanel({ box: [3634, 2618, 4288, 2946], x0: 3673, dx: 61.1, values: r1Values, errs: r1Errs, brackets: r1Brackets, title: '(Cohort1)OD', titleY: 2539, legendY: [2640, 2683, 2727] });
  odPanel({ box: [3634, 3217, 4288, 3545], x0: 3673, dx: 61.1, values: r2Values, errs: r2Errs, brackets: r2Brackets, title: '(Cohort2)OD', titleY: 3138, legendY: [3239, 3282, 3326] });

  // ---- panel letters
  letter('A', 19, 48);
  letter('B', 1607, 48);
  letter('C', 2397, 48);
  letter('D', 3126, 48);
  letter('E', 3837, 48);
  letter('F', 19, 650);
  letter('G', 933, 645);
  letter('H', 1840, 655);
  letter('I', 2765, 650);
  letter('J', 3683, 652);
  letter('K', 19, 1309);
  letter('L', 1217, 1301);
  letter('M', 2315, 1292);
  letter('N', 3440, 1278);
  letter('O', 9, 2499);
  letter('P', 1188, 2515);
  letter('Q', 2362, 2522);
  letter('R', 3540, 2526);

  return { animation: false, backgroundColor: '#fff', grid, xAxis, yAxis, series, graphic };
}

const App: React.FC = () => {
  const chartRef = useRef<HTMLDivElement>(null);

  useEffect(() => {
    if (!chartRef.current) return;
    const chart = echarts.init(chartRef.current, null, { renderer: 'svg' });
    chart.setOption(buildOption() as any);
    return () => chart.dispose();
  }, []);

  // the window can come up narrower than the figure, squeeze it to fit
  const fit = Math.min(1, window.innerWidth / 4547);

  return (
    <div
      ref={chartRef}
      style={{ position: 'absolute', left: 0, top: 0, width: 4547, height: 3699, transform: `scaleX(${fit})`, transformOrigin: '0 0' }}
    />
  );
};

export default App;
